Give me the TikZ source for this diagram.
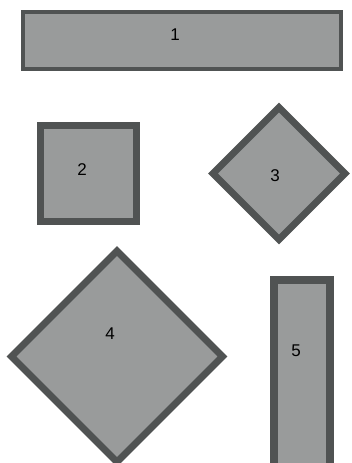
\documentclass[tikz,border=0pt]{standalone}
\usepackage{fontspec}
\setmainfont{Liberation Sans}
\usetikzlibrary{shapes.geometric}
\definecolor{shapefill}{HTML}{999B9B}
\definecolor{shapeline}{HTML}{505353}
\begin{document}
\begin{tikzpicture}[x=1pt,y=-1pt,
  box/.style={draw=shapeline,fill=shapefill,rectangle,inner sep=0pt,outer sep=0pt},
  dia/.style={draw=shapeline,fill=shapefill,diamond,aspect=1,inner sep=0pt,outer sep=0pt},
  lbl/.style={font=\fontsize{17}{19}\selectfont,text=black,inner sep=0pt}]
\useasboundingbox (0,0) rectangle (352,463);
\clip (0,0) rectangle (352,463);
\node[box,line width=4pt,minimum width=318pt,minimum height=57pt] (s1) at (182,40.5) {};
\node[box,line width=7pt,minimum width=95.5pt,minimum height=95.5pt] (s2) at (88.3,173.3) {};
\node[dia,line width=7pt,minimum width=132pt,minimum height=132pt] (s3) at (279,173.5) {};
\node[dia,line width=7pt,minimum width=211pt,minimum height=211pt] (s4) at (117,356.5) {};
\node[box,line width=8pt,minimum width=56pt,minimum height=240pt] (s5) at (302,400) {};
\node[lbl] (t1) at (175,35) {1};
\node[lbl] (t2) at (82,170) {2};
\node[lbl] (t3) at (275,176) {3};
\node[lbl] (t4) at (110,334) {4};
\node[lbl] (t5) at (296,351) {5};
\end{tikzpicture}
\end{document}
